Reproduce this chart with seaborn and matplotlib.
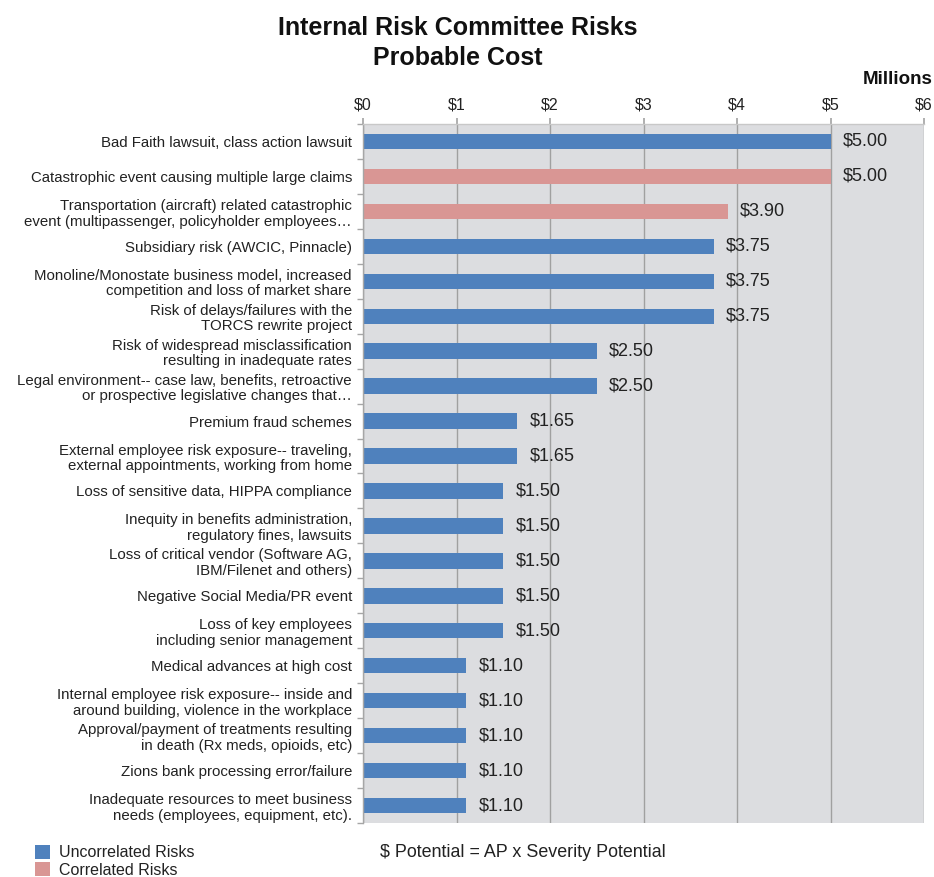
import matplotlib
matplotlib.use("Agg")
import matplotlib.pyplot as plt
from matplotlib.patches import Patch
import seaborn as sns
import pandas as pd

# Risk descriptions, probable cost (millions of $) and correlation group
risks = [
    "Bad Faith lawsuit, class action lawsuit",
    "Catastrophic event causing multiple large claims",
    "Transportation (aircraft) related catastrophic\nevent (multipassenger, policyholder employees…",
    "Subsidiary risk (AWCIC, Pinnacle)",
    "Monoline/Monostate business model, increased\ncompetition and loss of market share",
    "Risk of delays/failures with the\nTORCS rewrite project",
    "Risk of widespread misclassification\nresulting in inadequate rates",
    "Legal environment-- case law, benefits, retroactive\nor prospective legislative changes that…",
    "Premium fraud schemes",
    "External employee risk exposure-- traveling,\nexternal appointments, working from home",
    "Loss of sensitive data, HIPPA compliance",
    "Inequity in benefits administration,\nregulatory fines, lawsuits",
    "Loss of critical vendor (Software AG,\nIBM/Filenet and others)",
    "Negative Social Media/PR event",
    "Loss of key employees\nincluding senior management",
    "Medical advances at high cost",
    "Internal employee risk exposure-- inside and\naround building, violence in the workplace",
    "Approval/payment of treatments resulting\nin death (Rx meds, opioids, etc)",
    "Zions bank processing error/failure",
    "Inadequate resources to meet business\nneeds (employees, equipment, etc).",
]
costs = [5.00, 5.00, 3.90, 3.75, 3.75, 3.75, 2.50, 2.50, 1.65, 1.65,
         1.50, 1.50, 1.50, 1.50, 1.50, 1.10, 1.10, 1.10, 1.10, 1.10]
groups = ["Uncorrelated Risks", "Correlated Risks", "Correlated Risks"] + ["Uncorrelated Risks"] * 17

x_ticks = [0, 1, 2, 3, 4, 5, 6]
x_tick_labels = ["$0", "$1", "$2", "$3", "$4", "$5", "$6"]

palette = {"Uncorrelated Risks": "#4f81bd", "Correlated Risks": "#d99694"}

df = pd.DataFrame({"risk": risks, "cost": costs, "group": groups})

sns.set_theme(style="white")
plt.rcParams["font.family"] = ["Liberation Sans", "DejaVu Sans"]

fig = plt.figure(figsize=(9.34, 8.77), dpi=100)
ax = fig.add_axes([0.3887, 0.0616, 0.6006, 0.797])
ax.set_facecolor("#dcdde0")

sns.barplot(data=df, y="risk", x="cost", hue="group", palette=palette,
            dodge=False, width=0.44, legend=False, saturation=1,
            order=risks, linewidth=0, ax=ax)

ax.set_xlim(0, 6)
ax.set_ylim(len(risks) - 0.5, -0.5)
ax.set_xticks(x_ticks)
ax.set_xticklabels(x_tick_labels, fontsize=11.5, color="#222222")
ax.xaxis.tick_top()
ax.xaxis.set_label_position("top")
ax.tick_params(axis="x", which="major", direction="out", length=4,
               color="#a6a6a6", pad=4.5, top=True, bottom=False)
ax.grid(axis="x", color="#a0a0a0", linewidth=1.0)
ax.set_axisbelow(True)

# category labels with boundary tick marks between categories
ax.set_yticks(range(len(risks)))
ax.set_yticklabels(risks, fontsize=10.8, color="#222222", linespacing=1.15)
ax.tick_params(axis="y", which="major", length=0, pad=8)
ax.set_yticks([i - 0.5 for i in range(len(risks) + 1)], minor=True)
ax.tick_params(axis="y", which="minor", direction="out", length=4,
               color="#a6a6a6", width=1, left=True)
ax.set_xlabel("")
ax.set_ylabel("")

for side in ["right", "bottom"]:
    ax.spines[side].set_visible(False)
ax.spines["left"].set_color("#a6a6a6")
ax.spines["top"].set_color("#c8c8c8")
ax.spines["left"].set_linewidth(1.0)
ax.spines["top"].set_linewidth(1.0)

for container in ax.containers:
    ax.bar_label(container, labels=[f"${v:.2f}" if v == v and v > 0 else "" for v in container.datavalues],
                 padding=9, fontsize=13, color="#222222")

fig.text(0.49, 0.982, "Internal Risk Committee Risks\nProbable Cost", ha="center", va="top",
         fontsize=18, fontweight="bold", color="#111111", linespacing=1.33)
fig.text(0.998, 0.909, "Millions", ha="right", va="center", fontsize=13.5,
         fontweight="bold", color="#111111")
fig.text(0.407, 0.0285, "$ Potential = AP x Severity Potential", ha="left", va="center",
         fontsize=12.9, color="#222222")

handles = [Patch(facecolor=palette[g], edgecolor="none", label=g)
           for g in ["Uncorrelated Risks", "Correlated Risks"]]
fig.legend(handles=handles, loc="lower left", bbox_to_anchor=(0.022, -0.017),
           frameon=False, fontsize=11.5, handlelength=0.95, handleheight=0.95,
           handletextpad=0.55, labelspacing=0.12, labelcolor="#222222")

fig.savefig("out.png", dpi=100)
